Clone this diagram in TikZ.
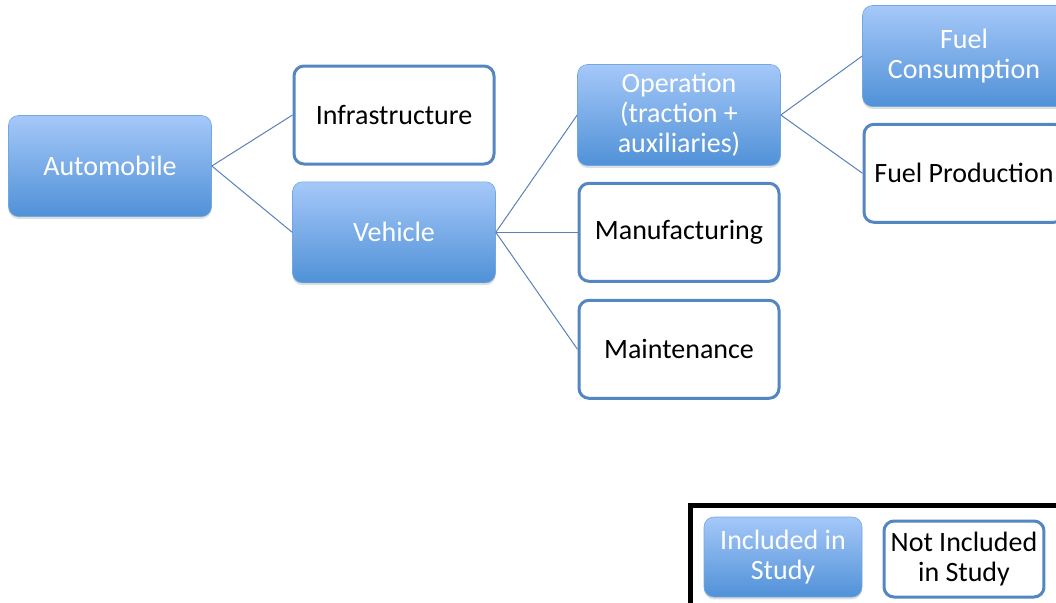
\documentclass[tikz,border=0pt]{standalone}
\usepackage{fontspec}
\setmainfont{Carlito}
\usetikzlibrary{positioning, shadows}
\definecolor{boxtop}{RGB}{165,200,249}
\definecolor{boxbot}{RGB}{80,145,215}
\definecolor{boxline}{RGB}{84,134,194}
\definecolor{linkline}{RGB}{88,130,185}
\tikzset{
    inbox/.style={rectangle, rounded corners=5pt,
        top color=boxtop, bottom color=boxbot, draw=boxbot!80, line width=0.3pt,
        drop shadow={opacity=0.25, shadow xshift=0pt, shadow yshift=-1.2pt},
        minimum width=101.5pt, minimum height=50.5pt,
        align=center, font=\fontsize{14}{15}\selectfont, text=white},
    outbox/.style={rectangle, rounded corners=5pt,
        fill=white, draw=boxline, line width=1.5pt,
        minimum width=100pt, minimum height=49pt,
        align=center, font=\fontsize{14}{15}\selectfont, text=black},
    link/.style={draw=linkline, line width=0.5pt},
}

\begin{document}
\begin{tikzpicture}[x=0.5pt, y=-0.5pt, node distance=8pt]
    \useasboundingbox (0,0) rectangle (1056,602);
    \clip (0,0) rectangle (1056,602);

    \node (auto)  [inbox] at (110,166) {Automobile};

    \node (infra) [outbox] at (394,115) {Infrastructure};
    \node (veh)   [inbox, below=of infra] {Vehicle};

    \node (oper)  [inbox] at (679,115) {Operation\\(traction +\\auxiliaries)};
    \node (manu)  [outbox, below=of oper] {Manufacturing};
    \node (maint) [outbox, below=of manu] {Maintenance};

    \node (fcons) [inbox] at (964,56) {Fuel\\Consumption};
    \node (fprod) [outbox, below=of fcons] {Fuel Production};

    \draw[link] (auto.east) -- (infra.west);
    \draw[link] (auto.east) -- (veh.west);
    \draw[link] (veh.east)  -- (oper.west);
    \draw[link] (veh.east)  -- (manu.west);
    \draw[link] (veh.east)  -- (maint.west);
    \draw[link] (oper.east) -- (fcons.west);
    \draw[link] (oper.east) -- (fprod.west);

    % legend
    \draw[black, line width=2.5pt] (690,505) rectangle (1100,650);
    \node (incl)  [inbox, minimum width=79pt, minimum height=40pt] at (783,557)
        {Included in\\Study};
    \node (excl)  [outbox, minimum width=79pt, minimum height=38pt] at (964,559)
        {Not Included\\in Study};
\end{tikzpicture}
\end{document}
